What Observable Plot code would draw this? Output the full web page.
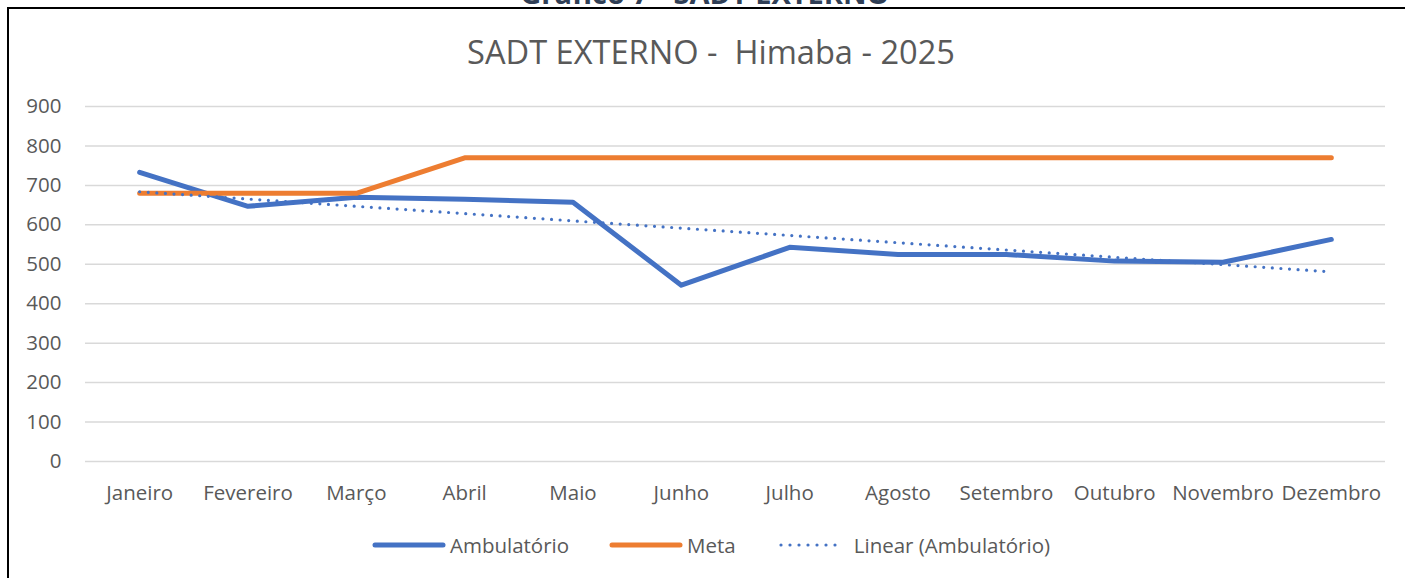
<!DOCTYPE html>
<html>
<head>
<meta charset="utf-8">
<script src="https://cdn.jsdelivr.net/npm/d3@7"></script>
<script src="https://cdn.jsdelivr.net/npm/@observablehq/plot@0.6"></script>
<style>
  html, body { margin: 0; padding: 0; background: #fff; }
  body { width: 1405px; height: 578px; position: relative; overflow: hidden; font-family: "Open Sans", Lato, sans-serif; }
  #pretitle { position: absolute; left: 0; width: 1410px; top: -22px; line-height: 29px; text-align: center; font-weight: bold; font-size: 29px; color: #2F3E55; white-space: nowrap; }
  #frame { position: absolute; left: 7px; top: 7px; width: 1420px; height: 600px; border-left: 2.5px solid #000; border-top: 2.5px solid #000; }
  #title { position: absolute; left: 0; width: 1422px; top: 35px; line-height: 33px; text-align: center; font-size: 32.6px; color: #595959; white-space: pre; }
  #chart { position: absolute; left: 0; top: 80px; }
  #legend { position: absolute; top: 530px; left: 0; width: 1422px; height: 30px; display: flex; justify-content: center; align-items: center; font-size: 20.5px; color: #595959; }
  .item { display: flex; align-items: center; margin: 0 20px; }
  .item svg { margin-right: 4px; }
</style>
</head>
<body>
<div id="pretitle">Gráfico 7 - SADT EXTERNO</div>
<div id="frame"></div>
<div id="title">SADT EXTERNO -  Himaba - 2025</div>
<div id="chart"></div>
<div id="legend"></div>
<script>
const months = ["Janeiro","Fevereiro","Março","Abril","Maio","Junho","Julho","Agosto","Setembro","Outubro","Novembro","Dezembro"];
const ambulatorio = [733, 647, 670, 665, 657, 447, 543, 525, 525, 508, 505, 563];
const meta = [680, 680, 680, 770, 770, 770, 770, 770, 770, 770, 770, 770];
const yTicks = [0, 100, 200, 300, 400, 500, 600, 700, 800, 900];
const seriesNames = ["Ambulatório", "Meta", "Linear (Ambulatório)"];
const colors = ["#4472C4", "#ED7D31", "#4472C4"];

const rows = months.map((m, i) => ({i, m, amb: ambulatorio[i], meta: meta[i]}));

const chart = Plot.plot({
  width: 1405,
  height: 440,
  marginLeft: 85,
  marginRight: 20,
  marginTop: 26,
  marginBottom: 59,
  style: {fontFamily: "'Open Sans', Lato, sans-serif", fontSize: "20.5px", color: "#595959", background: "transparent", overflow: "visible"},
  x: {type: "linear", domain: [-0.5, 11.5]},
  y: {domain: [0, 900]},
  marks: [
    Plot.gridY(yTicks, {stroke: "#d9d9d9", strokeOpacity: 1, strokeWidth: 1.5}),
    Plot.axisY({ticks: yTicks, tickSize: 0, tickPadding: 24, label: null, fill: "#595959"}),
    Plot.axisX({ticks: d3.range(months.length), tickFormat: i => months[i], tickSize: 0, tickPadding: 23.5, label: null, fill: "#595959"}),
    Plot.line(rows, {x: "i", y: "amb", stroke: colors[0], strokeWidth: 5, strokeLinecap: "round", strokeLinejoin: "round"}),
    Plot.line(rows, {x: "i", y: "meta", stroke: colors[1], strokeWidth: 5, strokeLinecap: "round", strokeLinejoin: "round"}),
    Plot.linearRegressionY(rows, {x: "i", y: "amb", ci: 0, stroke: colors[2], strokeWidth: 3.2, strokeDasharray: "0 8.6", strokeLinecap: "round"})
  ]
});
document.getElementById("chart").appendChild(chart);

const legend = document.getElementById("legend");
seriesNames.forEach((name, k) => {
  const item = document.createElement("div");
  item.className = "item";
  const dash = k === 2 ? 'stroke-dasharray="0 9" stroke-width="3.2"' : 'stroke-width="5"';
  const x1 = k === 2 ? 5 : 3;
  const x2 = k === 2 ? 68 : 71;
  item.innerHTML = `<svg width="74" height="12"><line x1="${x1}" x2="${x2}" y1="6" y2="6" stroke="${colors[k]}" ${dash} stroke-linecap="round"/></svg><span>${name}</span>`;
  legend.appendChild(item);
});
</script>
</body>
</html>
